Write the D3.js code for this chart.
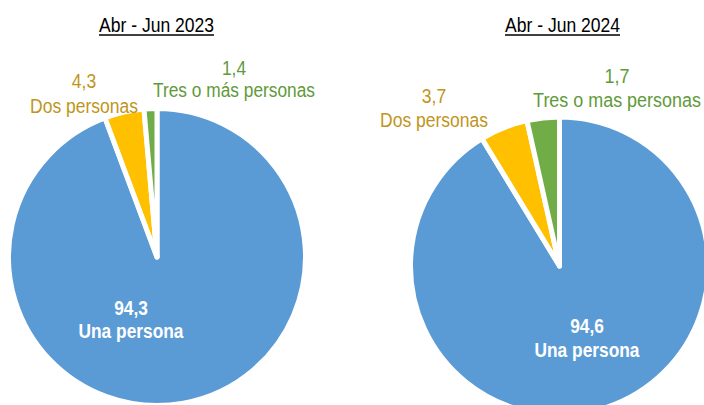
<!DOCTYPE html>
<html>
<head>
<meta charset="utf-8">
<script src="https://cdn.jsdelivr.net/npm/d3@7"></script>
<style>
  html, body { margin: 0; padding: 0; background: #fff; overflow: hidden; }
  svg { display: block; }
  text { font-family: "Liberation Sans Narrow", "Arial Narrow", "Liberation Sans", Arial, sans-serif; }
</style>
</head>
<body>
<svg id="chart" width="704" height="405"></svg>
<script>
// ---- data ----
const categories = ["Una persona", "Dos personas", "Tres o más personas"];
const categories2024 = ["Una persona", "Dos personas", "Tres o mas personas"];
const titles = ["Abr - Jun 2023", "Abr - Jun 2024"];
// slice shares as drawn in the reference
const shares2023 = [94.3, 4.3, 1.4];
const shares2024 = [91.3, 5.2, 3.5];
// value labels as printed in the reference
const labels2023 = ["94,3", "4,3", "1,4"];
const labels2024 = ["94,6", "3,7", "1,7"];
const colors = ["#5B9BD5", "#FFC000", "#70AD47"];
const textColors = ["#FFFFFF", "#BF9520", "#5F9A3A"];

const svg = d3.select("#chart");

const panels = [
  { title: titles[0], cats: categories, shares: shares2023, labels: labels2023,
    cx: 157, cy: 257, r: 148.5, titleX: 156.5, titleW: 115,
    labelPos: [[131, 315, 338, 105], [84, 88, 113, 108], [234, 75, 97, 162]] },
  { title: titles[1], cats: categories2024, shares: shares2024, labels: labels2024,
    cx: 559.5, cy: 266, r: 149, titleX: 562.5, titleW: 115,
    labelPos: [[587, 333, 357, 105], [434, 103, 127, 108], [617, 83, 107, 168]] }
];

const pie = d3.pie().sort(null).value(d => d);

// text drawn with a horizontal squeeze so it matches the narrow face of the reference
function narrowText(x, y, str, size, weight, fill, targetW, forcedScale) {
  const g = svg.append("g");
  const t = g.append("text")
    .attr("x", 0).attr("y", 0)
    .attr("text-anchor", "middle")
    .attr("font-size", size)
    .attr("font-weight", weight)
    .attr("fill", fill)
    .text(str);
  const w = t.node().getComputedTextLength();
  const s = forcedScale || Math.min(1, targetW / w);
  g.attr("transform", `translate(${x},${y}) scale(${s},1)`);
  return { scale: s, width: w * s };
}

panels.forEach(p => {
  const g = svg.append("g").attr("transform", `translate(${p.cx},${p.cy})`);
  const arc = d3.arc().innerRadius(0).outerRadius(p.r);
  g.selectAll("path")
    .data(pie(p.shares))
    .join("path")
    .attr("d", arc)
    .attr("fill", (d, i) => colors[i])
    .attr("stroke", "#fff")
    .attr("stroke-width", 5)
    .attr("stroke-linejoin", "round");

  // title
  const tt = narrowText(p.titleX, 32, p.title, 21, "normal", "#000", p.titleW);
  svg.append("line")
    .attr("x1", p.titleX - tt.width / 2).attr("x2", p.titleX + tt.width / 2)
    .attr("y1", 35).attr("y2", 35)
    .attr("stroke", "#000").attr("stroke-width", 1.3);

  // labels
  p.cats.forEach((c, i) => {
    const [x, y1, y2, w] = p.labelPos[i];
    const bold = i === 0 ? "bold" : "normal";
    const res = narrowText(x, y2, c, 21, bold, textColors[i], w);
    narrowText(x, y1, p.labels[i], 21, bold, textColors[i], 999, res.scale);
  });
});
</script>
</body>
</html>
